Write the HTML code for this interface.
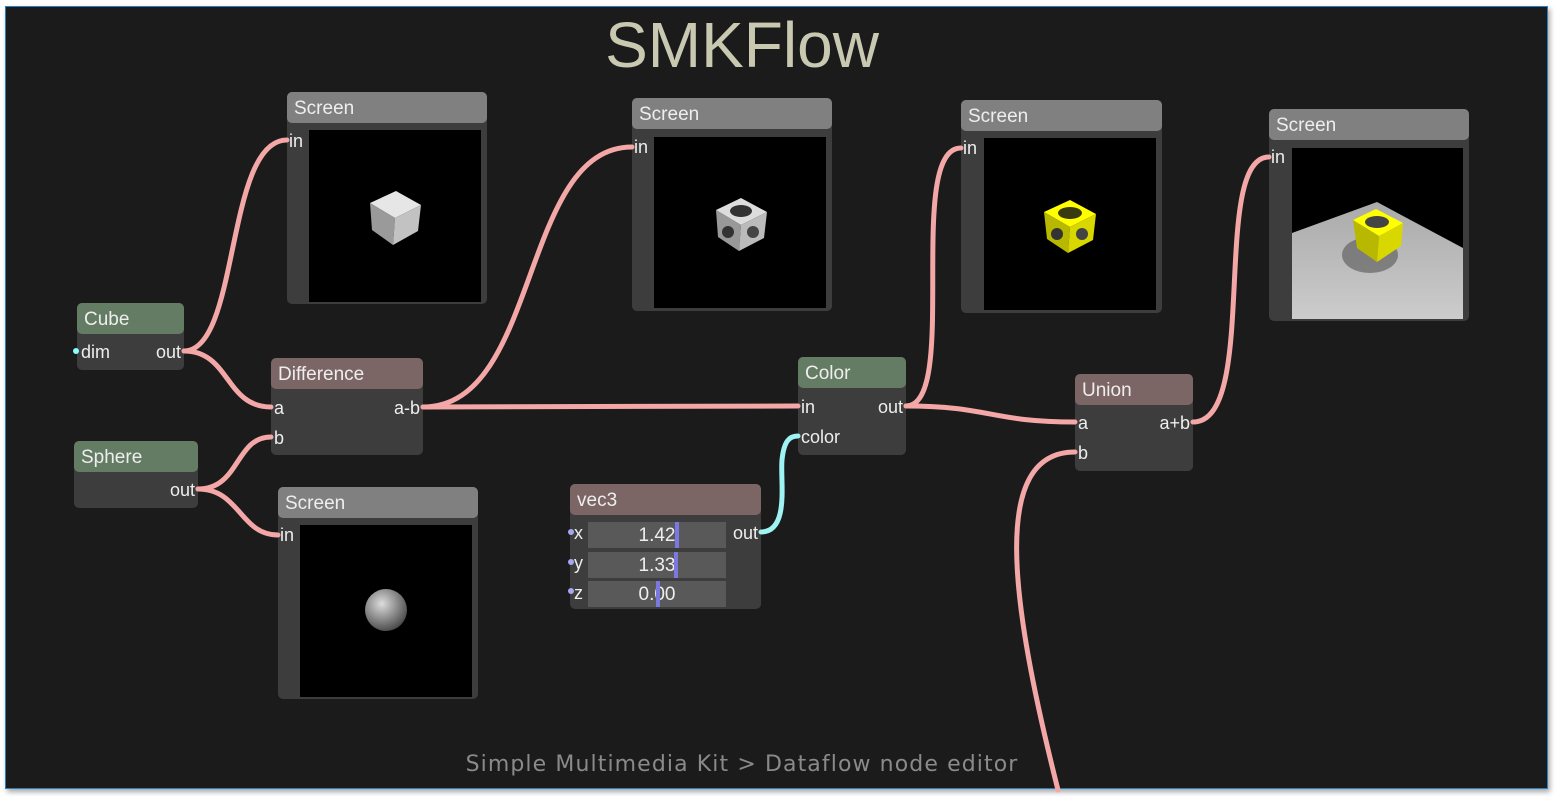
<!DOCTYPE html>
<html><head><meta charset="utf-8"><style>
html,body{margin:0;padding:0;background:#fff;width:1556px;height:797px;overflow:hidden;font-family:"Liberation Sans",sans-serif}
#f{position:absolute;left:5px;top:6px;width:1541px;height:781px;background:#1b1b1b;border:1px solid #2a7fc0;box-shadow:2px 3px 5px rgba(0,0,0,.35);overflow:hidden}
.n{position:absolute;background:#3d3d3d;border-radius:5px}
.h{position:absolute;left:0;right:0;top:0;height:31px;border-radius:5px;color:#eee;font-size:19px;line-height:33px;padding-left:7px;box-sizing:border-box}
.g{background:#647c64}.r{background:#7b6565}.s{background:#808080}
.t{position:absolute;color:#eee;font-size:18px;line-height:20px}
.img{position:absolute;background:#000}
.fld{position:absolute;background:#595959;color:#eee;font-size:19px;text-align:center;line-height:28px}
.bar{position:absolute;top:0;width:4px;height:26px;background:#7b78e0}
</style></head><body>
<div id="f"></div>
<svg width="1556" height="797" style="position:absolute;left:0;top:0">
<text x="742" y="67" text-anchor="middle" font-family="Liberation Sans" font-size="64" fill="#c9c9b1">SMKFlow</text>
<text x="742" y="771" text-anchor="middle" font-family="DejaVu Sans" font-size="22" fill="#8a8a8a" letter-spacing="1.1">Simple Multimedia Kit &gt; Dataflow node editor</text>
</svg>

<div class="n" style="left:287px;top:92px;width:200px;height:212px"><div class="h s">Screen</div><div class="t" style="left:2px;top:39px">in</div><div class="img" style="left:22px;top:38px;width:172px;height:172px"></div></div>
<div class="n" style="left:632px;top:98px;width:200px;height:213px"><div class="h s">Screen</div><div class="t" style="left:2px;top:39px">in</div><div class="img" style="left:22px;top:39px;width:172px;height:171px"></div></div>
<div class="n" style="left:961px;top:100px;width:201px;height:213px"><div class="h s">Screen</div><div class="t" style="left:2px;top:38px">in</div><div class="img" style="left:23px;top:38px;width:172px;height:172px"></div></div>
<div class="n" style="left:1269px;top:109px;width:200px;height:212px"><div class="h s">Screen</div><div class="t" style="left:2px;top:38px">in</div><div class="img" style="left:23px;top:39px;width:171px;height:171px"></div></div>
<div class="n" style="left:278px;top:487px;width:200px;height:212px"><div class="h s">Screen</div><div class="t" style="left:2px;top:38px">in</div><div class="img" style="left:22px;top:38px;width:172px;height:172px"></div></div>

<div class="n" style="left:77px;top:303px;width:107px;height:67px"><div class="h g">Cube</div><div class="t" style="left:4px;top:39px">dim</div><div class="t" style="right:3px;top:39px">out</div></div>
<div class="n" style="left:74px;top:441px;width:124px;height:67px"><div class="h g">Sphere</div><div class="t" style="right:3px;top:39px">out</div></div>
<div class="n" style="left:271px;top:358px;width:152px;height:97px"><div class="h r">Difference</div><div class="t" style="left:3px;top:40px">a</div><div class="t" style="left:3px;top:70px">b</div><div class="t" style="right:3px;top:40px">a-b</div></div>
<div class="n" style="left:798px;top:357px;width:108px;height:98px"><div class="h g">Color</div><div class="t" style="left:3px;top:40px">in</div><div class="t" style="left:3px;top:70px">color</div><div class="t" style="right:3px;top:40px">out</div></div>
<div class="n" style="left:1075px;top:374px;width:118px;height:97px"><div class="h r">Union</div><div class="t" style="left:3px;top:39px">a</div><div class="t" style="left:3px;top:69px">b</div><div class="t" style="right:3px;top:39px">a+b</div></div>
<div class="n" style="left:570px;top:484px;width:191px;height:125px"><div class="h r">vec3</div>
<div class="t" style="left:4px;top:39px">x</div><div class="t" style="left:4px;top:69px">y</div><div class="t" style="left:4px;top:99px">z</div>
<div class="t" style="right:3px;top:39px">out</div>
<div class="fld" style="left:18px;top:38px;width:138px;height:26px">1.42<div class="bar" style="left:87px"></div></div>
<div class="fld" style="left:18px;top:68px;width:138px;height:26px">1.33<div class="bar" style="left:86px"></div></div>
<div class="fld" style="left:18px;top:97px;width:138px;height:26px">0.00<div class="bar" style="left:68px"></div></div>
</div>

<svg width="1556" height="797" style="position:absolute;left:0;top:0">
<defs>
<radialGradient id="sg" cx="0.4" cy="0.35" r="0.7"><stop offset="0" stop-color="#ddd"/><stop offset="1" stop-color="#444"/></radialGradient>
<linearGradient id="fl" x1="0" y1="0" x2="0" y2="1"><stop offset="0" stop-color="#aaa"/><stop offset="1" stop-color="#ccc"/></linearGradient>
</defs>
<polygon points="370,203 396,191 421,205 395,218" fill="#e6e6e6"/>
<polygon points="370,203 395,218 393,245 372,230" fill="#9a9a9a"/>
<polygon points="395,218 421,205 418,231 393,245" fill="#c2c2c2"/>
<polygon points="716,210 741,198 767,212 741,225" fill="#ddd"/>
<ellipse cx="741" cy="211" rx="11" ry="6" fill="#333"/>
<polygon points="716,210 741,225 739,251 718,237" fill="#999"/>
<polygon points="741,225 767,212 764,238 739,251" fill="#bbb"/>
<circle cx="728" cy="232" r="6" fill="#333"/><circle cx="753" cy="232" r="6" fill="#444"/>
<polygon points="1044,212 1070,200 1096,214 1070,227" fill="#ff0"/>
<ellipse cx="1070" cy="213" rx="12" ry="6" fill="#3a3a10"/>
<polygon points="1044,212 1070,227 1068,253 1047,239" fill="#b8b800"/>
<polygon points="1070,227 1096,214 1093,240 1068,253" fill="#d8d800"/>
<circle cx="1057" cy="234" r="6" fill="#333"/><circle cx="1082" cy="234" r="6" fill="#444"/>
<polygon points="1292,233 1377,202 1463,248 1463,319 1292,319" fill="url(#fl)"/>
<ellipse cx="1370" cy="255" rx="28" ry="18" fill="#555" opacity=".6"/>
<polygon points="1353,220 1376,209 1403,223 1379,236" fill="#ff0"/>
<ellipse cx="1377" cy="222" rx="12" ry="6" fill="#444"/>
<polygon points="1353,220 1379,236 1377,262 1357,248" fill="#b8b800"/>
<polygon points="1379,236 1403,223 1401,246 1377,262" fill="#d8d800"/>
<circle cx="386" cy="610" r="21" fill="url(#sg)"/>
<g fill="none" stroke="#f4a7a7" stroke-width="5" stroke-linecap="round">
<path d="M184,351 C240,351 225,140 287,140"/>
<path d="M184,351 C230,351 225,407 271,407"/>
<path d="M198,489 C240,489 235,437 271,437"/>
<path d="M198,489 C240,489 240,535 278,535"/>
<path d="M423,407 C540,407 520,147 632,147"/>
<path d="M423,407 L798,406"/>
<path d="M906,406 C960,406 905,148 961,148"/>
<path d="M906,406 C990,406 990,422 1075,422"/>
<path d="M1193,422 C1260,422 1210,157 1269,157"/>
<path d="M1075,452 C990,452 1010,600 1058,790"/>
</g>
<path d="M761,532 C790,532 780,480 782,460 C784,440 790,436 798,436" fill="none" stroke="#9ff3f3" stroke-width="5" stroke-linecap="round"/>
<circle cx="76" cy="351" r="3" fill="#8ff"/>
<circle cx="571" cy="532" r="3" fill="#a8a8f0"/><circle cx="571" cy="562" r="3" fill="#a8a8f0"/><circle cx="571" cy="591" r="3" fill="#a8a8f0"/>
</svg>
</body></html>
